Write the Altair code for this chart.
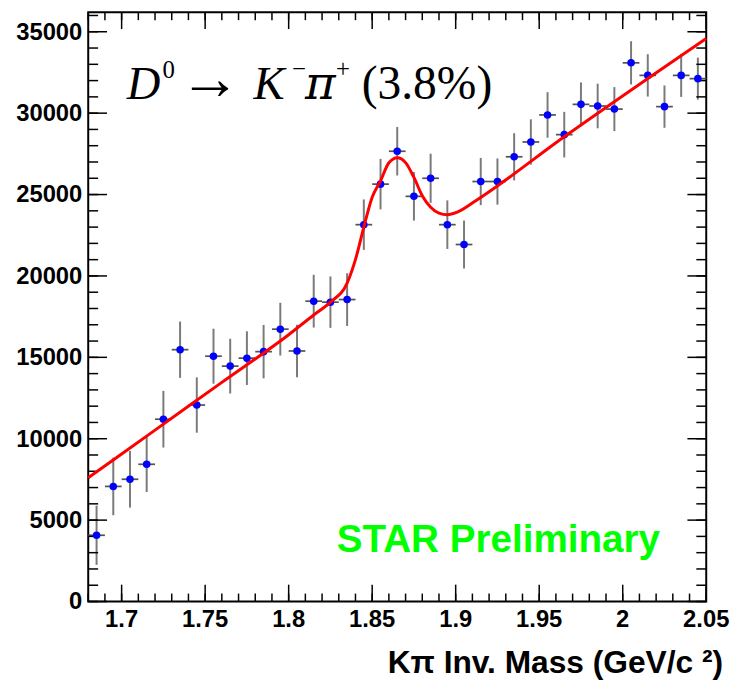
import altair as alt
import pandas as pd

# ---------------- data ----------------
mass = [1.685, 1.695, 1.705, 1.715, 1.725, 1.735, 1.745, 1.755, 1.765, 1.775,
        1.785, 1.795, 1.805, 1.815, 1.825, 1.835, 1.845, 1.855, 1.865, 1.875,
        1.885, 1.895, 1.905, 1.915, 1.925, 1.935, 1.945, 1.955, 1.965, 1.975,
        1.985, 1.995, 2.005, 2.015, 2.025, 2.035, 2.045]
counts = [4070, 7070, 7510, 8430, 11200, 15470, 12070, 15070, 14460, 14950,
          15350, 16730, 15390, 18450, 18390, 18550, 23150, 25640, 27660, 24890,
          26000, 23150, 21930, 25800, 25800, 27320, 28230, 29890, 28680, 30540,
          30440, 30250, 33090, 32320, 30400, 32320, 32120]
errors = [1820, 1770, 1740, 1700, 1740, 1730, 1700, 1690, 1680, 1650,
          1640, 1620, 1610, 1620, 1580, 1620, 1550, 1550, 1490, 1490,
          1510, 1490, 1470, 1450, 1420, 1450, 1390, 1400, 1400, 1350,
          1370, 1350, 1330, 1300, 1300, 1320, 1290]
bin_half = 0.005

# fit curve
fit_x = [1.68, 1.72, 1.76, 1.80, 1.815, 1.825, 1.835, 1.8405, 1.845, 1.85,
         1.855, 1.86, 1.865, 1.87, 1.875, 1.88, 1.885, 1.89, 1.895, 1.901,
         1.912, 1.965, 2.05]
fit_y = [7600, 10530, 13460, 16390, 17600, 18390, 19560, 21190, 23000, 24830,
         25840, 26950, 27260, 26960, 26050, 24930, 24220, 23860, 23760, 23920,
         24620, 28550, 34590]

# axis tick values and tick labels
x_major = [1.7, 1.75, 1.8, 1.85, 1.9, 1.95, 2.0, 2.05]
x_labels = ["1.7", "1.75", "1.8", "1.85", "1.9", "1.95", "2", "2.05"]
x_minor = [1.68, 1.69, 1.70, 1.71, 1.72, 1.73, 1.74, 1.75, 1.76, 1.77, 1.78,
           1.79, 1.80, 1.81, 1.82, 1.83, 1.84, 1.85, 1.86, 1.87, 1.88, 1.89,
           1.90, 1.91, 1.92, 1.93, 1.94, 1.95, 1.96, 1.97, 1.98, 1.99, 2.00,
           2.01, 2.02, 2.03, 2.04, 2.05]
y_major = [0, 5000, 10000, 15000, 20000, 25000, 30000, 35000]
y_labels = ["0", "5000", "10000", "15000", "20000", "25000", "30000", "35000"]
y_minor = [v * 1000 for v in range(0, 37)]

x_title = ["Kπ Inv. Mass (GeV/c ²)"]

# annotation texts
big_italic = ["D", "K"]
pi_text = ["π"]
arrow_text = ["→"]
paren_text = ["(3.8%)"]
small_sup = ["0", "−", "+"]
star_text = ["STAR Preliminary"]

# ---------------- tables ----------------
W, H = 624, 595
X_DOM = [1.68, 2.05]
Y_DOM = [0, 36200]
X_PER_PX = (X_DOM[1] - X_DOM[0]) / W
Y_PER_PX = (Y_DOM[1] - Y_DOM[0]) / H

fit = pd.DataFrame({"m": fit_x, "n": fit_y})
pts = pd.DataFrame({"m": mass, "n": counts})

# one table of line segments: error bars, bin-width bars and frame ticks
segs = []
for m, n, e in zip(mass, counts, errors):
    segs.append({"kind": "err", "x1": m, "x2": m, "y1": n - e, "y2": n + e})
    segs.append({"kind": "bin", "x1": m - bin_half, "x2": m + bin_half, "y1": n, "y2": n})


def add_xticks(values, size_px):
    L = size_px * Y_PER_PX
    for v in values:
        segs.append({"kind": "tick", "x1": v, "x2": v, "y1": Y_DOM[0], "y2": Y_DOM[0] + L})
        segs.append({"kind": "tick", "x1": v, "x2": v, "y1": Y_DOM[1], "y2": Y_DOM[1] - L})


def add_yticks(values, size_px):
    L = size_px * X_PER_PX
    for v in values:
        segs.append({"kind": "tick", "x1": X_DOM[0], "x2": X_DOM[0] + L, "y1": v, "y2": v})
        segs.append({"kind": "tick", "x1": X_DOM[1], "x2": X_DOM[1] - L, "y1": v, "y2": v})


add_xticks(x_minor, 8)
add_xticks(x_major, 17)
add_yticks(y_minor, 10)
add_yticks(y_major, 19)
seg_df = pd.DataFrame(segs)

# annotation anchor positions in data coordinates
ann_italic = pd.DataFrame({"m": [1.7031, 1.7790], "n": [30846, 30846], "t": big_italic})
ann_pi = pd.DataFrame({"m": [1.8098], "n": [30846], "t": pi_text})
ann_arrow = pd.DataFrame({"m": [1.7345], "n": [30846], "t": arrow_text})
ann_paren = pd.DataFrame({"m": [1.8437], "n": [30846], "t": paren_text})
ann_sup = pd.DataFrame({"m": [1.7245, 1.8022, 1.8283], "n": [32184, 32245, 32245], "t": small_sup})
ann_star = pd.DataFrame({"m": [1.8288], "n": [3042], "t": star_text})

xs = alt.Scale(domain=X_DOM, nice=False, zero=False)
ys = alt.Scale(domain=Y_DOM, nice=False, zero=False)

LF = "Liberation Sans"
TF = "Liberation Serif"


def X(field):
    return alt.X(field, type="quantitative", scale=xs, axis=None)


def Y(field):
    return alt.Y(field, type="quantitative", scale=ys, axis=None)


segments = alt.Chart(seg_df).mark_rule().encode(
    x=X("x1"), x2="x2:Q", y=Y("y1"), y2="y2:Q",
    color=alt.Color("kind:N", legend=None,
                    scale=alt.Scale(domain=["err", "bin", "tick"],
                                    range=["#7a7a7a", "#555555", "#000000"])),
    strokeWidth=alt.StrokeWidth("kind:N", legend=None,
                                scale=alt.Scale(domain=["err", "bin", "tick"],
                                                range=[2, 1.5, 2])))

# tick labels and axis title
xmaj = pd.DataFrame({"v": x_major, "t": x_labels})
ymaj = pd.DataFrame({"v": y_major, "t": y_labels})
xlab = alt.Chart(xmaj).mark_text(font=LF, fontWeight="bold", fontSize=24, color="black",
                                 align="center", baseline="top", dy=7).encode(
    x=X("v"), y=alt.value(H), text="t:N")
ylab = alt.Chart(ymaj).mark_text(font=LF, fontWeight="bold", fontSize=24, color="black",
                                 align="right", baseline="middle", dx=-6, dy=1).encode(
    y=Y("v"), x=alt.value(0), text="t:N")
xtitle = alt.Chart(pd.DataFrame({"t": x_title})).mark_text(
    font=LF, fontWeight="bold", fontSize=32, color="black", align="right",
    baseline="alphabetic").encode(x=alt.value(W + 17), y=alt.value(H + 72), text="t:N")

points = alt.Chart(pts).mark_circle(color="#0000ff", opacity=1, size=58).encode(
    x=X("m"), y=Y("n"))
curve = alt.Chart(fit).mark_line(color="#ff0000", strokeWidth=3, interpolate="monotone").encode(
    x=X("m"), y=Y("n"))


def text_layer(data, color="black", **style):
    return alt.Chart(data).mark_text(align="left", baseline="alphabetic", color=color, **style).encode(
        x=X("m"), y=Y("n"), text="t:N")


t1 = text_layer(ann_italic, font=TF, fontSize=47, fontStyle="italic")
t1b = text_layer(ann_pi, font="DejaVu Serif", fontSize=47, fontStyle="italic")
t2 = text_layer(ann_arrow, font=TF, fontSize=62)
t2b = text_layer(ann_paren, font=TF, fontSize=48)
t3 = text_layer(ann_sup, font=TF, fontSize=25)
t4 = text_layer(ann_star, color="#00ff00", font=LF, fontWeight="bold", fontSize=39)

chart = alt.layer(segments, points, curve, xlab, ylab, xtitle,
                  t1, t1b, t2, t2b, t3, t4).properties(
    width=W, height=H,
    padding={"left": 8, "top": 0, "right": 0, "bottom": 0},
    background="white",
).configure_view(stroke="black", strokeWidth=2)

chart.save("out.html", embed_options={"renderer": "svg", "actions": False})
